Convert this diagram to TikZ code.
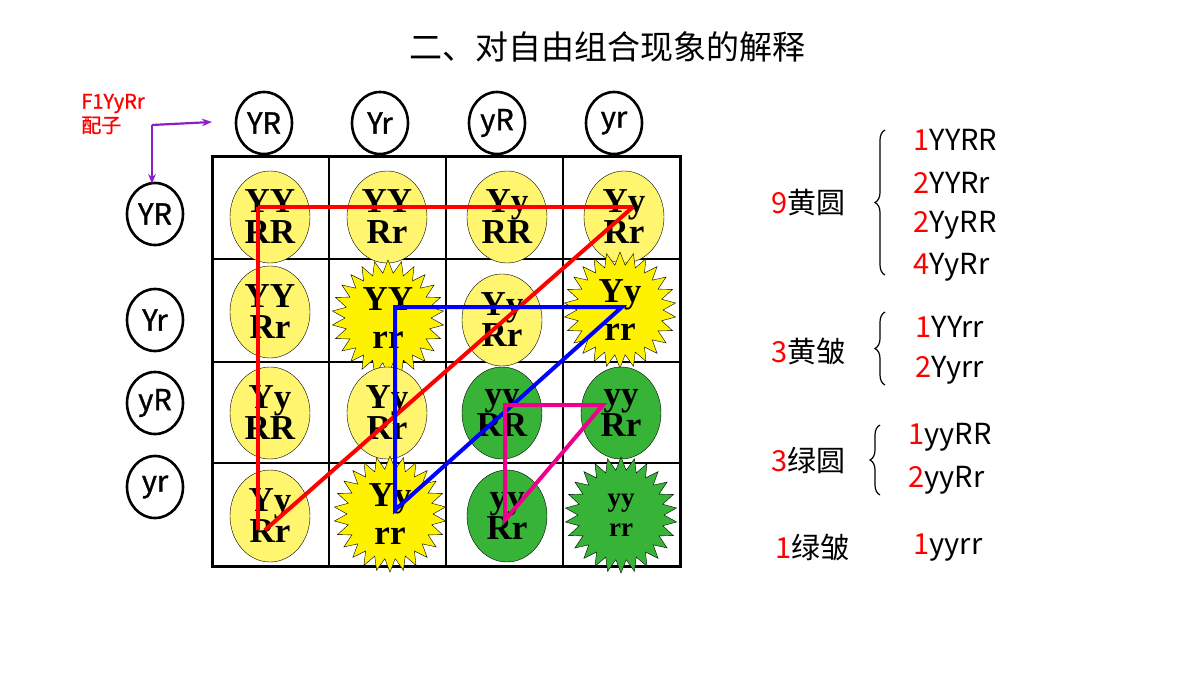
\documentclass[tikz,border=0pt]{standalone}
\usepackage{fontspec}
\newfontfamily\cjk{Noto Sans CJK SC}
\newfontfamily\cjkb{Noto Sans CJK SC}[FakeBold=1.2]
\newfontfamily\tms{Liberation Serif}
\usetikzlibrary{shapes.symbols,shapes.geometric,decorations.pathreplacing,arrows.meta}
\definecolor{yel}{RGB}{255,242,0}
\definecolor{pyel}{RGB}{255,245,110}
\definecolor{grn}{RGB}{55,180,55}
\definecolor{pur}{RGB}{140,30,200}
\begin{document}
\begin{tikzpicture}[x=1pt,y=-1pt,
 gam/.style={draw,line width=2.6pt,ellipse,minimum width=56pt,minimum height=62pt,font=\cjkb\fontsize{29}{29}\selectfont,inner sep=0pt},
 ov/.style={draw,ellipse,minimum width=80pt,minimum height=92pt,inner sep=0pt,font=\tms\bfseries\fontsize{35}{31}\selectfont,align=center},
 st/.style={draw,starburst,starburst points=26,random starburst=0,starburst point height=13pt,minimum width=112pt,minimum height=116pt,inner sep=0pt,font=\tms\bfseries\fontsize{35}{38}\selectfont,align=center},
 lbl/.style={font=\cjk\fontsize{29}{29}\selectfont,anchor=west},
 br/.style={decorate,decoration={brace,amplitude=10pt,mirror},line width=1.2pt},
 ln/.style={line width=4pt}]
\useasboundingbox (0,0) rectangle (1200,675);
\node[font=\cjk\fontsize{33}{33}\selectfont] (title) at (607,47) {二、对自由组合现象的解释};
% grid
\draw[line width=3pt] (212,156) rectangle (680,566);
\foreach \x in {329,446,563} \draw[line width=1.4pt] (\x,156) -- (\x,566);
\foreach \y in {259,362,463} \draw[line width=1.4pt] (212,\y) -- (680,\y);
% gametes
\foreach \t/\x [count=\i] in {YR/264,Yr/380,yR/497,yr/614} \node[gam] (c\i) at (\x,123) {\t};
\foreach \t/\y [count=\i] in {YR/214,Yr/320,yR/403,yr/487} \node[gam] (r\i) at (155,\y) {\t};
\node[text=red,font=\cjkb\fontsize{20}{24}\selectfont,align=left] (f1) at (113,114) {F1YyRr\\配子};
\coordinate (k) at (152,125);
\coordinate (ka) at (212,122);
\coordinate (kb) at (152,184);
\draw[pur,line width=2.2pt,-{Stealth[length=10pt]}] (k) -- (ka);
\draw[pur,line width=2.2pt,-{Stealth[length=10pt]}] (k) -- (kb);
% cells
\node[ov,fill=pyel] (a11) at (270,217) {YY\\RR};
\node[ov,fill=pyel] (a12) at (387,217) {YY\\Rr};
\node[ov,fill=pyel] (a13) at (507,217) {Yy\\RR};
\node[ov,fill=pyel] (a14) at (624,217) {Yy\\Rr};
\node[ov,fill=pyel] (a21) at (270,312) {YY\\Rr};
\node[st,fill=yel] (a22) at (388,318) {YY\\rr};
\node[ov,fill=pyel] (a23) at (502,320) {Yy\\Rr};
\node[st,fill=yel] (a24) at (620,310) {Yy\\rr};
\node[ov,fill=pyel] (a31) at (270,413) {Yy\\RR};
\node[ov,fill=pyel] (a32) at (387,413) {Yy\\Rr};
\node[ov,fill=grn] (a33) at (502,413) {yy\\RR};
\node[ov,fill=grn] (a34) at (621,413) {yy\\Rr};
\node[ov,fill=pyel] (a41) at (270,516) {Yy\\Rr};
\node[st,fill=yel] (a42) at (390,514) {Yy\\rr};
\node[ov,fill=grn] (a43) at (507,516) {yy\\Rr};
\node[st,fill=grn,font=\tms\bfseries\fontsize{27}{30}\selectfont] (a44) at (621,515) {yy\\rr};
% lines
\coordinate (p1) at (258,207); \coordinate (p2) at (633,207); \coordinate (p3) at (258,530); \coordinate (p4) at (265,530);
\draw[red,ln] (p1) -- (p2); \draw[red,ln] (p1) -- (p3); \draw[red,ln] (p4) -- (p2);
\coordinate (b1) at (395,307); \coordinate (b2) at (622,307); \coordinate (b3) at (395,510);
\draw[blue,ln] (b3) -- (b1) -- (b2) -- cycle;
\coordinate (m1) at (505,405); \coordinate (m2) at (603,405); \coordinate (m3) at (505,520);
\draw[magenta,ln] (m3) -- (m1) -- (m2) -- cycle;
% right side
\node[lbl] (g1) at (768,203) {\textcolor{red}{9}黄圆};
\draw[br] (885,130) -- (885,275);
\node[lbl] (g1a) at (910,140) {\textcolor{red}{1}YYRR};
\node[lbl] (g1b) at (910,183) {\textcolor{red}{2}YYRr};
\node[lbl] (g1c) at (910,225) {\textcolor{red}{2}YyRR};
\node[lbl] (g1d) at (910,267) {\textcolor{red}{4}YyRr};
\node[lbl] (g2) at (768,352) {\textcolor{red}{3}黄皱};
\draw[br] (885,312) -- (885,385);
\node[lbl] (g2a) at (912,327) {\textcolor{red}{1}YYrr};
\node[lbl] (g2b) at (912,370) {\textcolor{red}{2}Yyrr};
\node[lbl] (g3) at (768,460) {\textcolor{red}{3}绿圆};
\draw[br] (880,425) -- (880,495);
\node[lbl] (g3a) at (905,437) {\textcolor{red}{1}yyRR};
\node[lbl] (g3b) at (905,480) {\textcolor{red}{2}yyRr};
\node[lbl] (g4) at (772,548) {\textcolor{red}{1}绿皱};
\node[lbl] (g4a) at (910,548) {\textcolor{red}{1}yyrr};
\end{tikzpicture}
\end{document}
